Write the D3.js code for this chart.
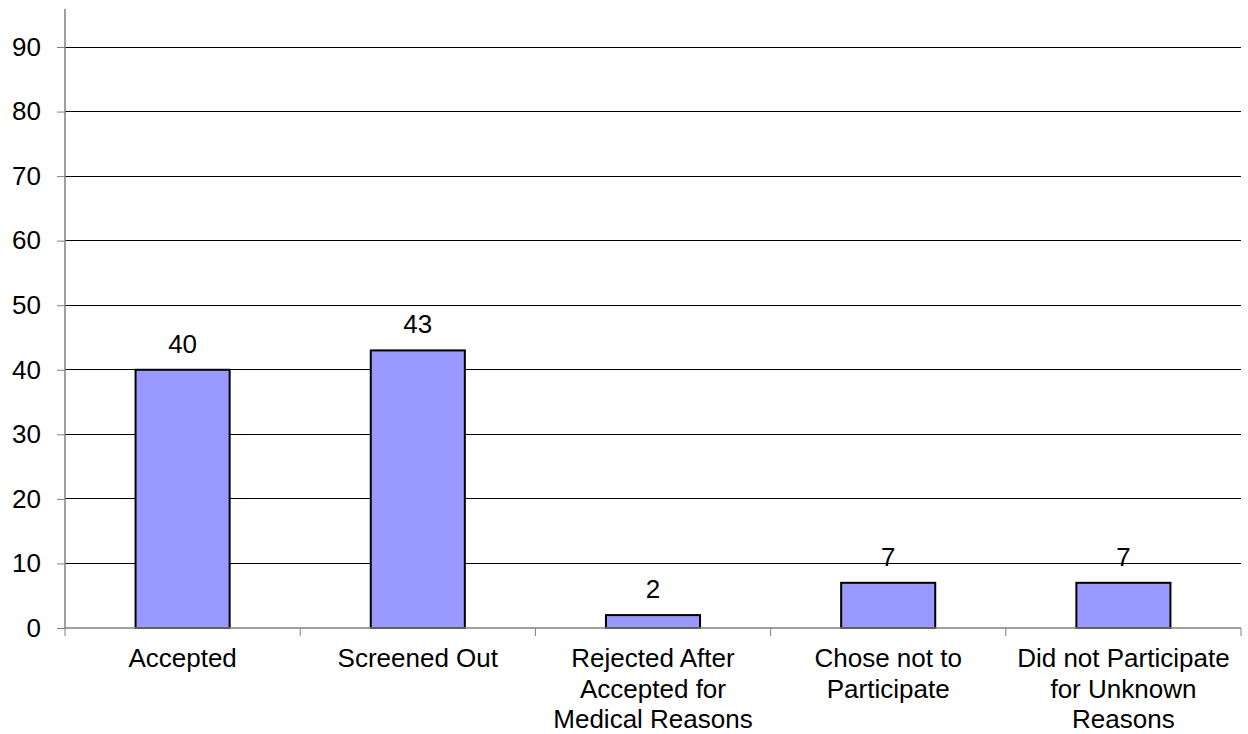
<!DOCTYPE html>
<html>
<head>
<meta charset="utf-8">
<script src="https://cdn.jsdelivr.net/npm/d3@7"></script>
<style>
  html, body { margin: 0; padding: 0; background: #fff; }
  svg { display: block; }
  text { font-family: "Liberation Sans", Arial, sans-serif; fill: #000; }
</style>
</head>
<body>
<svg id="chart" width="1248" height="734"></svg>
<script>
// Outcome categories (multi-line labels) and their counts
const categories = [
  ["Accepted"],
  ["Screened Out"],
  ["Rejected After", "Accepted for", "Medical Reasons"],
  ["Chose not to", "Participate"],
  ["Did not Participate", "for Unknown", "Reasons"]
];
const counts = [40, 43, 2, 7, 7];
const yTicks = [0, 10, 20, 30, 40, 50, 60, 70, 80, 90];

const svg = d3.select("#chart");
const left = 65, right = 1241, bottom = 628, top90 = 47, axisTop = 9;
const fontSize = 26;

const keys = categories.map((c, i) => i);
const x = d3.scaleBand().domain(keys).range([left, right])
  .paddingInner(0.6).paddingOuter(0.3);
const xCat = d3.scaleBand().domain(keys).range([left, right]).padding(0);
const y = d3.scaleLinear().domain([0, 90]).range([bottom, top90]);

// Horizontal gridlines
svg.append("g").selectAll("line").data(yTicks.filter(d => d > 0)).join("line")
  .attr("x1", left).attr("x2", right)
  .attr("y1", d => y(d)).attr("y2", d => y(d))
  .attr("stroke", "#000").attr("stroke-width", 1).attr("shape-rendering", "crispEdges");

// Bars
svg.append("g").selectAll("rect").data(counts).join("rect")
  .attr("x", (d, i) => x(i))
  .attr("y", d => y(d))
  .attr("width", x.bandwidth())
  .attr("height", d => y(0) - y(d))
  .attr("fill", "#9999FF")
  .attr("stroke", "#000").attr("stroke-width", 2);

// Value labels
svg.append("g").selectAll("text").data(counts).join("text")
  .attr("x", (d, i) => x(i) + x.bandwidth() / 2)
  .attr("y", d => y(d) - 17)
  .attr("text-anchor", "middle")
  .attr("font-size", fontSize)
  .text(d => d);

// Y axis
const yAxis = d3.axisLeft(y).tickValues(yTicks).tickSize(8).tickPadding(16);
const gy = svg.append("g").attr("transform", `translate(${left},0)`).call(yAxis);
gy.select(".domain").remove();
gy.selectAll(".tick line").attr("stroke", "#808080");
gy.selectAll(".tick text").attr("font-size", fontSize)
  .attr("font-family", "Liberation Sans, Arial, sans-serif").attr("fill", "#000");
svg.append("line").attr("x1", left).attr("x2", left).attr("y1", axisTop).attr("y2", bottom)
  .attr("stroke", "#808080").attr("stroke-width", 1.5);

// X axis with ticks at category boundaries
const boundaries = keys.map(i => xCat(i)).concat([right]);
svg.append("line").attr("x1", left).attr("x2", right).attr("y1", bottom).attr("y2", bottom)
  .attr("stroke", "#808080").attr("stroke-width", 1.5);
svg.append("g").selectAll("line").data(boundaries).join("line")
  .attr("x1", d => d).attr("x2", d => d)
  .attr("y1", bottom).attr("y2", bottom + 8)
  .attr("stroke", "#808080").attr("stroke-width", 1);

// Category labels
const lab = svg.append("g").selectAll("text").data(categories).join("text")
  .attr("text-anchor", "middle")
  .attr("font-size", fontSize)
  .attr("x", (d, i) => xCat(i) + xCat.bandwidth() / 2)
  .attr("y", 667);
lab.selectAll("tspan").data(d => d).join("tspan")
  .attr("x", function() { return d3.select(this.parentNode).attr("x"); })
  .attr("dy", (d, j) => j === 0 ? 0 : 30.5)
  .text(d => d);
</script>
</body>
</html>
